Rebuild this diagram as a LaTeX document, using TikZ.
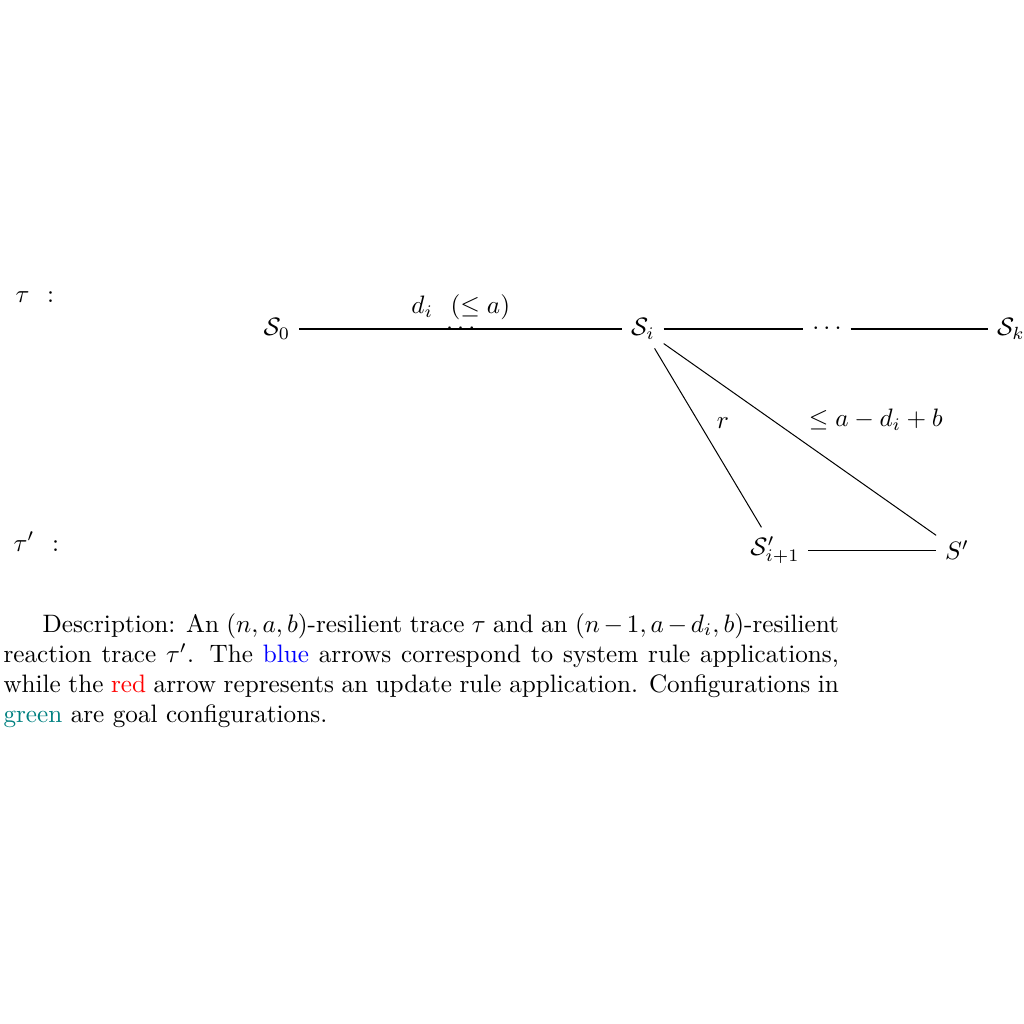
\documentclass[tikz,border=0pt]{standalone}
\usepackage{xcolor}
\begin{document}
\begin{tikzpicture}[x=0.39683pt,y=-0.39683pt,
  st/.style={inner sep=0.333em},
  conn/.style={draw=black, line width=0.4pt}]
\useasboundingbox (0,0) rectangle (1024,1024);
% states
\node[st] (S0) at (277,329) {$\mathcal{S}_0$};
\node[st] (Si) at (643,329) {$\mathcal{S}_i$};
\node[st] (dd) at (827,329) {$\cdots$};
\node[st] (Sk) at (1011,329) {$\mathcal{S}_k$};
\node[st] (Sp1) at (775,550) {$\mathcal{S}'_{i+1}$};
\node[st] (Sp) at (957,550) {$S'$};
% trace labels
\node[anchor=base west, inner sep=0] (t1) at (15,302) {$\tau$\hspace{7pt}:};
\node[anchor=base west, inner sep=0] (t2) at (13,551) {$\tau'$\hspace{7pt}:};
% connectors
\draw[conn] (S0) -- node[midway] (m1) {$\cdots$} node[midway, above] (l1) {$d_i\hspace{7pt}(\leq a)$} (Si);
\draw[conn] (Si) -- (dd);
\draw[conn] (dd) -- (Sk);
\draw[conn] (Si) -- node[midway, above right] (lr) {$r$} (Sp1);
\draw[conn] (Si) -- node[midway, above right] (lb) {${\leq}\; a-d_i+b$} (Sp);
\draw[conn] (Sp1) -- (Sp);
% caption
\node[anchor=base west, inner sep=0] (cap) at (3,632) {\parbox[t]{331.5pt}{\hspace*{15.5pt}Description: An $(n,a,b)$-resilient trace $\tau$ and an $(n-1,a-d_i,b)$-resilient reaction trace $\tau'$. The \textcolor{blue}{blue} arrows correspond to system rule applications, while the \textcolor{red}{red} arrow represents an update rule application. Configurations in \textcolor{teal}{green} are goal configurations.}};
\end{tikzpicture}
\end{document}
